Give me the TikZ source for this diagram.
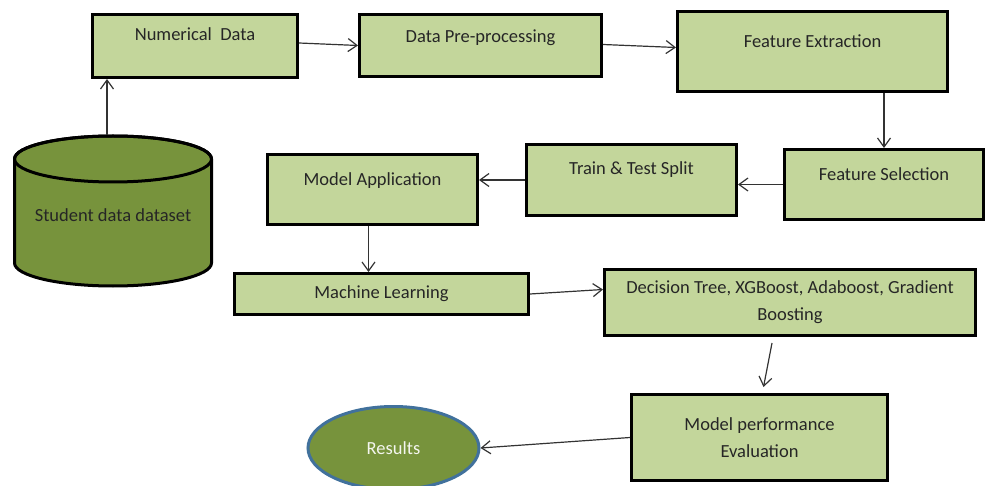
\documentclass[tikz,border=0pt]{standalone}
\usepackage{fontspec}
\setmainfont{Carlito}
\usepackage{tikz}
\usetikzlibrary{shapes.geometric,arrows.meta}

\definecolor{boxgreen}{HTML}{C3D69B}
\definecolor{olive}{HTML}{77933C}
\definecolor{rimblue}{HTML}{41719C}

\begin{document}
\begin{tikzpicture}[x=1pt,y=-1pt,
	font=\fontsize{18.5}{27}\selectfont,
	box/.style={draw=black, line width=3pt, fill=boxgreen, inner sep=0pt, text=black!85, align=center},
	lift/.style={text height=13pt, text depth=#1},
	arr/.style={-{Straight Barb[length=9pt,width=13pt]}, line width=1.2pt, draw=black!80}]
	\useasboundingbox (0,0) rectangle (987,486);
	% the dataset drum
	\filldraw [fill=olive, draw=black, line width=3pt] (14.5,159) -- (14.5,263) arc [start angle=180, end angle=360, x radius=98.5pt, y radius=23pt] -- (211.5,159) arc [start angle=0, end angle=180, x radius=98.5pt, y radius=23pt] -- cycle;
	\draw [black, line width=3pt] (113,159) ellipse [x radius=98.5pt, y radius=23pt];
	\coordinate (datatop) at (113,135);
	\node [text=black!85] (data) at (113,215) {Student data dataset};
	\node [box, lift=23.3pt, minimum width=205pt, minimum height=63pt] (num) at (195,46) {Numerical\ \ Data};
	\node [box, lift=18.3pt, minimum width=242pt, minimum height=62pt] (pre) at (480.5,45.5) {Data Pre-processing};
	\node [box, lift=20.3pt, minimum width=270pt, minimum height=80pt] (fe) at (812.5,51.5) {Feature Extraction};
	\node [box, lift=20.3pt, minimum width=199pt, minimum height=70pt] (fs) at (884,184.5) {Feature Selection};
	\node [box, lift=23.3pt, minimum width=210pt, minimum height=71pt] (ts) at (631.5,180) {Train \& Test Split};
	\node [box, lift=20.3pt, minimum width=210pt, minimum height=70pt] (ma) at (372.5,189.5) {Model Application};
	\node [box, lift=3.3pt, minimum width=294pt, minimum height=41pt] (ml) at (381.5,294) {Machine Learning};
	\node [box, minimum width=371pt, minimum height=66pt] (dt) at (790,302.5) {Decision Tree, XGBoost, Adaboost, Gradient\\Boosting};
	\node [box, minimum width=256pt, minimum height=86pt] (mp) at (759.5,437.5) {Model performance\\Evaluation};
	\node [ellipse, draw=rimblue, line width=3pt, fill=olive, minimum width=171pt, minimum height=83pt, text=white!92!olive] (res) at (393.5,448) {Results};
	\draw [arr] ([xshift=-6pt]datatop) -- ([xshift=-88pt]num.south);
	\draw [arr] ([yshift=3pt]num.east) -- (pre.west);
	\draw [arr] ([yshift=1pt]pre.east) -- ([yshift=4pt]fe.west);
	\draw [arr] (fe.south -| fs.north) -- (fs.north);
	\draw [arr] (fs.west) -- (fs.west -| ts.east);
	\draw [arr] (ts.west) -- (ts.west -| ma.east);
	\draw [arr] ([xshift=-4pt]ma.south) -- ([xshift=-4pt]ma.south |- ml.north);
	\draw [arr] (ml.east) -- ([yshift=13pt]dt.west);
	\draw [arr] ([xshift=-18pt,yshift=-6pt]dt.south) -- ([xshift=4pt,yshift=6pt]mp.north);
	\draw [arr] (mp.west) -- (res.east);
\end{tikzpicture}
\end{document}
